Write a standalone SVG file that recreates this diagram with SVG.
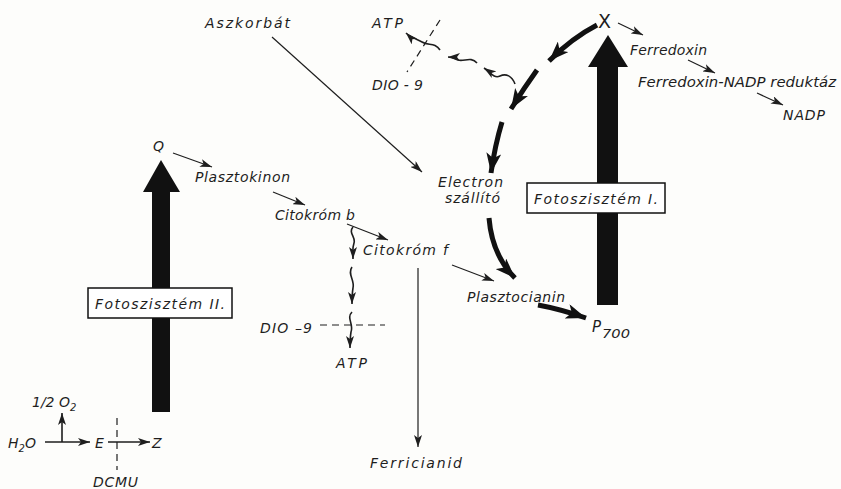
<svg xmlns="http://www.w3.org/2000/svg" width="841" height="489" viewBox="0 0 841 489">
<style>
text{font-family:"DejaVu Sans","Liberation Sans",sans-serif;font-style:italic;font-size:14px;fill:#1e1e1e}
.thin{fill:none;stroke:#1e1e1e;stroke-width:1.2}
.wavy{fill:none;stroke:#1e1e1e;stroke-width:1.6}
.thick{fill:none;stroke:#111;stroke-width:5;stroke-linecap:butt}
.dash{fill:none;stroke:#1e1e1e;stroke-width:1.2;stroke-dasharray:7,5}
.box{fill:#fff;stroke:#111;stroke-width:1.5}
.big{fill:#111}
</style>
<defs>
<marker id="ah" viewBox="0 0 12 8" refX="12" refY="4" markerWidth="12" markerHeight="8" markerUnits="userSpaceOnUse" orient="auto">
<path d="M0,0 L12,4 L0,8 L3,4 Z" fill="#1e1e1e"/>
</marker>
<marker id="ahb" viewBox="0 0 20 15" refX="20" refY="7.5" markerWidth="20" markerHeight="15" markerUnits="userSpaceOnUse" orient="auto">
<path d="M0,0 L20,7.5 L0,15 L5,7.5 Z" fill="#111"/>
</marker>
</defs>
<rect width="841" height="489" fill="#fdfdfb"/>

<g id="psII">
<polygon class="big" points="161,160 180,192 170,192 170,412 152,412 152,192 143,192"/>
<rect class="box" x="88" y="288" width="144" height="30"/>
<text x="95" y="309" textLength="130" lengthAdjust="spacing">Fotoszisztém II.</text>
</g>
<g id="psI">
<polygon class="big" points="608,35 628,67 618,67 618,305 597,305 597,67 588,67"/>
<rect class="box" x="527" y="183" width="138" height="30"/>
<text x="534" y="204" textLength="124" lengthAdjust="spacing">Fotoszisztém I.</text>
</g>

<g id="labels">
<g id="n-Q"><text x="153" y="151">Q</text></g>
<g id="n-plasztokinon"><text x="195" y="182" textLength="95" lengthAdjust="spacing">Plasztokinon</text></g>
<g id="n-citb"><text x="275" y="220" textLength="80" lengthAdjust="spacing">Citokróm b</text></g>
<g id="n-citf"><text x="363" y="255" textLength="85" lengthAdjust="spacing">Citokróm f</text></g>
<g id="n-aszkorbat"><text x="205" y="28" textLength="85" lengthAdjust="spacing">Aszkorbát</text></g>
<g id="n-atp1"><text x="372" y="28" textLength="31" lengthAdjust="spacing">ATP</text></g>
<g id="n-dio1"><text x="372" y="90" textLength="51" lengthAdjust="spacing">DIO - 9</text></g>
<g id="n-X"><text x="598" y="28" style="font-style:normal;font-size:19px">X</text></g>
<g id="n-ferredoxin"><text x="630" y="55" textLength="77" lengthAdjust="spacing">Ferredoxin</text></g>
<g id="n-fnr"><text x="638" y="87" textLength="198" lengthAdjust="spacingAndGlyphs">Ferredoxin-NADP reduktáz</text></g>
<g id="n-nadp"><text x="783" y="120" textLength="42" lengthAdjust="spacing">NADP</text></g>
<g id="n-electron"><text x="438" y="187" textLength="65" lengthAdjust="spacing">Electron</text><text x="445" y="203" textLength="55" lengthAdjust="spacing">szállító</text></g>
<g id="n-plasztocianin"><text x="467" y="302" textLength="98" lengthAdjust="spacing">Plasztocianin</text></g>
<g id="n-p700"><text x="592" y="332" style="font-size:15px">P</text><text x="602" y="338" textLength="28" lengthAdjust="spacingAndGlyphs" style="font-size:12px">700</text></g>
<g id="n-dio2"><text x="260" y="333" textLength="52" lengthAdjust="spacing">DIO –9</text></g>
<g id="n-atp2"><text x="336" y="368" textLength="31" lengthAdjust="spacing">ATP</text></g>
<g id="n-ferricianid"><text x="370" y="468" textLength="92" lengthAdjust="spacing">Ferricianid</text></g>
<g id="n-h2o"><text x="8" y="448">H<tspan dy="4" style="font-size:10px">2</tspan><tspan dy="-4">O</tspan></text></g>
<g id="n-o2"><text x="32" y="407">1/2 O<tspan dy="4" style="font-size:10px">2</tspan></text></g>
<g id="n-E"><text x="95" y="448">E</text></g>
<g id="n-Z"><text x="152" y="448">Z</text></g>
<g id="n-dcmu"><text x="93" y="487" textLength="45" lengthAdjust="spacing">DCMU</text></g>
</g>

<g id="connectors">
<path class="thin" d="M173,153 L212,167" marker-end="url(#ah)"/>
<path class="thin" d="M273,192 L305,205" marker-end="url(#ah)"/>
<path class="thin" d="M347,224 L388,240" marker-end="url(#ah)"/>
<path class="thin" d="M452,265 L494,281" marker-end="url(#ah)"/>
<path class="thin" d="M272,37 L422,172" marker-end="url(#ah)"/>
<path class="thin" d="M418,268 L418,447" marker-end="url(#ah)"/>
<path class="thin" d="M618,23 L643,35" marker-end="url(#ah)"/>
<path class="thin" d="M688,60 L715,73" marker-end="url(#ah)"/>
<path class="thin" d="M757,93 L783,105" marker-end="url(#ah)"/>

<path class="wavy" d="M515,84 C512,76 506,73 500,76 C494,79 490,72 484,68" marker-end="url(#ah)"/>
<path class="wavy" d="M477,63 C471,56 464,62 458,60 C453,58 452,57 448,57" marker-end="url(#ah)"/>
<path class="wavy" d="M440,50 C435,42 428,46 422,42 C416,39 410,37 406,33" marker-end="url(#ah)"/>
<path class="dash" d="M440,20 L407,72"/>

<path class="wavy" d="M353,227 C348,233 356,237 354,243 C352,249 353,252 353,259" marker-end="url(#ah)"/>
<path class="wavy" d="M352,267 C347,274 355,280 353,288 C352,294 352,298 352,304" marker-end="url(#ah)"/>
<path class="wavy" d="M352,312 C346,318 354,324 351,332 C350,338 350,342 350,348" marker-end="url(#ah)"/>
<path class="dash" d="M320,325 L385,325"/>

<path class="thick" d="M597,25 Q572,38 549,61" marker-end="url(#ahb)"/>
<path class="thick" d="M537,70 Q524,88 511,109" marker-end="url(#ahb)"/>
<path class="thick" d="M502,122 Q495,145 491,173" marker-end="url(#ahb)"/>
<path class="thick" d="M489,218 Q492,255 515,278" marker-end="url(#ahb)"/>
<path class="thick" d="M538,305 Q560,309 586,318" marker-end="url(#ahb)"/>

<path class="thin" style="stroke-width:1.6" d="M45,442 L90,442" marker-end="url(#ah)"/>
<path class="thin" style="stroke-width:1.6" d="M62,442 L62,413" marker-end="url(#ah)"/>
<path class="thin" style="stroke-width:1.6" d="M108,442 L150,442" marker-end="url(#ah)"/>
<path class="dash" d="M117,418 L117,470"/>
</g>
</svg>
